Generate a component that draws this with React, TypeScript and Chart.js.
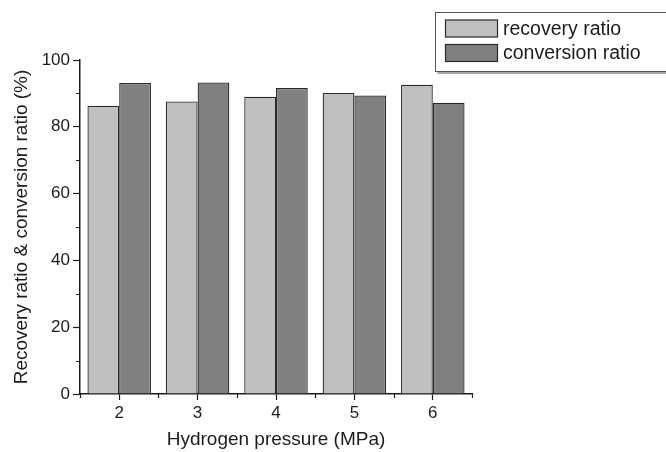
import React, { useEffect, useRef } from "react";
import { Chart, registerables } from "chart.js";

Chart.register(...registerables);

// Hydrogen pressure levels (MPa)
const pressures = ["2", "3", "4", "5", "6"];
// Recovery ratio (%) at each pressure
const recoveryRatio = [86.3, 87.6, 89.0, 90.1, 92.6];
// Conversion ratio (%) at each pressure
const conversionRatio = [93.1, 93.3, 91.6, 89.4, 87.2];
// Labelled y-axis values
const yTicks = [0, 20, 40, 60, 80, 100];
// Minor y-axis tick values
const yMinorTicks = [10, 30, 50, 70, 90];

const FONT = "Arial, 'Liberation Sans', Helvetica, sans-serif";
const INK = "#1c1c1c";

// Short minor tick marks on both axes
const minorTicksPlugin = {
  id: "minorTicks",
  afterDraw(chart: any) {
    const { ctx, scales } = chart;
    const x = scales.x;
    const y = scales.y;
    ctx.save();
    ctx.strokeStyle = INK;
    ctx.lineWidth = 1.2;
    ctx.beginPath();
    for (const v of yMinorTicks) {
      const py = Math.round(y.getPixelForValue(v)) + 0.5;
      ctx.moveTo(x.left - 4, py);
      ctx.lineTo(x.left, py);
    }
    for (let i = 0; i <= pressures.length; i++) {
      const px = Math.round(x.getPixelForValue(i - 0.5)) + 0.5;
      ctx.moveTo(px, y.bottom);
      ctx.lineTo(px, y.bottom + 4);
    }
    ctx.stroke();
    ctx.restore();
  },
};

// Boxed legend in the upper-right corner
const boxLegendPlugin = {
  id: "boxLegend",
  afterDraw(chart: any) {
    const { ctx } = chart;
    const left = 435.5;
    const top = 12.5;
    const right = 668;
    const bottom = 71.5;
    ctx.save();
    ctx.fillStyle = "#ffffff";
    ctx.fillRect(left, top, right - left, bottom - top);
    ctx.strokeStyle = "#555555";
    ctx.lineWidth = 1;
    ctx.strokeRect(left, top, right - left, bottom - top);
    ctx.strokeStyle = "#a8a8a8";
    ctx.lineWidth = 2;
    ctx.beginPath();
    ctx.moveTo(left + 2, bottom + 1.5);
    ctx.lineTo(right, bottom + 1.5);
    ctx.stroke();

    ctx.font = `19.5px ${FONT}`;
    ctx.textBaseline = "middle";
    ctx.textAlign = "left";
    chart.data.datasets.forEach((ds: any, i: number) => {
      const cy = 28.5 + i * 24.5;
      ctx.fillStyle = ds.backgroundColor;
      ctx.fillRect(445.5, cy - 8.5, 52, 17);
      ctx.strokeStyle = "#2b2b2b";
      ctx.lineWidth = 1.2;
      ctx.strokeRect(445.5, cy - 8.5, 52, 17);
      ctx.fillStyle = INK;
      ctx.fillText(ds.label, 503, cy + 1);
    });
    ctx.restore();
  },
};

export default function App() {
  const canvasRef = useRef<HTMLCanvasElement | null>(null);

  useEffect(() => {
    const canvas = canvasRef.current;
    if (!canvas) return;
    const chart = new Chart(canvas, {
      type: "bar",
      data: {
        labels: pressures,
        datasets: [
          {
            label: "recovery ratio",
            data: recoveryRatio,
            backgroundColor: "#c0c0c0",
            borderColor: "#2b2b2b",
            borderWidth: 1.3,
          },
          {
            label: "conversion ratio",
            data: conversionRatio,
            backgroundColor: "#808080",
            borderColor: "#2b2b2b",
            borderWidth: 1.3,
          },
        ],
      },
      options: {
        responsive: false,
        animation: false,
        devicePixelRatio: 1,
        layout: { padding: { top: 60, right: 194, bottom: 0, left: 0 } },
        datasets: {
          bar: { categoryPercentage: 0.81, barPercentage: 1 },
        },
        plugins: {
          legend: { display: false },
          tooltip: { enabled: false },
        },
        scales: {
          x: {
            type: "category",
            grid: {
              offset: false,
              drawOnChartArea: false,
              drawTicks: true,
              tickLength: 6,
              tickColor: INK,
              tickWidth: 1.2,
            },
            border: { display: true, color: INK, width: 1.5 },
            ticks: {
              color: INK,
              font: { family: FONT, size: 17 },
              padding: 3,
              maxRotation: 0,
            },
            title: {
              display: true,
              text: "Hydrogen pressure (MPa)",
              color: INK,
              font: { family: FONT, size: 19 },
              padding: { top: 2, bottom: 1 },
            },
            afterFit(scale: any) {
              scale.height = 58;
            },
          },
          y: {
            min: 0,
            max: 100,
            grid: {
              drawOnChartArea: false,
              drawTicks: true,
              tickLength: 7,
              tickColor: INK,
              tickWidth: 1.2,
            },
            border: { display: true, color: INK, width: 1.5 },
            afterBuildTicks(scale: any) {
              scale.ticks = yTicks.map((v) => ({ value: v }));
            },
            ticks: {
              color: INK,
              font: { family: FONT, size: 17 },
              padding: 3,
            },
            title: {
              display: true,
              text: "Recovery ratio & conversion ratio (%)",
              color: INK,
              font: { family: FONT, size: 19 },
              padding: { top: 10, bottom: 2 },
            },
            afterFit(scale: any) {
              scale.width = 80;
            },
          },
        },
      },
      plugins: [minorTicksPlugin, boxLegendPlugin],
    });
    return () => chart.destroy();
  }, []);

  return (
    <div
      style={{
        position: "fixed",
        left: 0,
        top: 0,
        width: 666,
        height: 452,
        background: "#ffffff",
      }}
    >
      <canvas ref={canvasRef} width={666} height={452} style={{ display: "block" }} />
    </div>
  );
}
